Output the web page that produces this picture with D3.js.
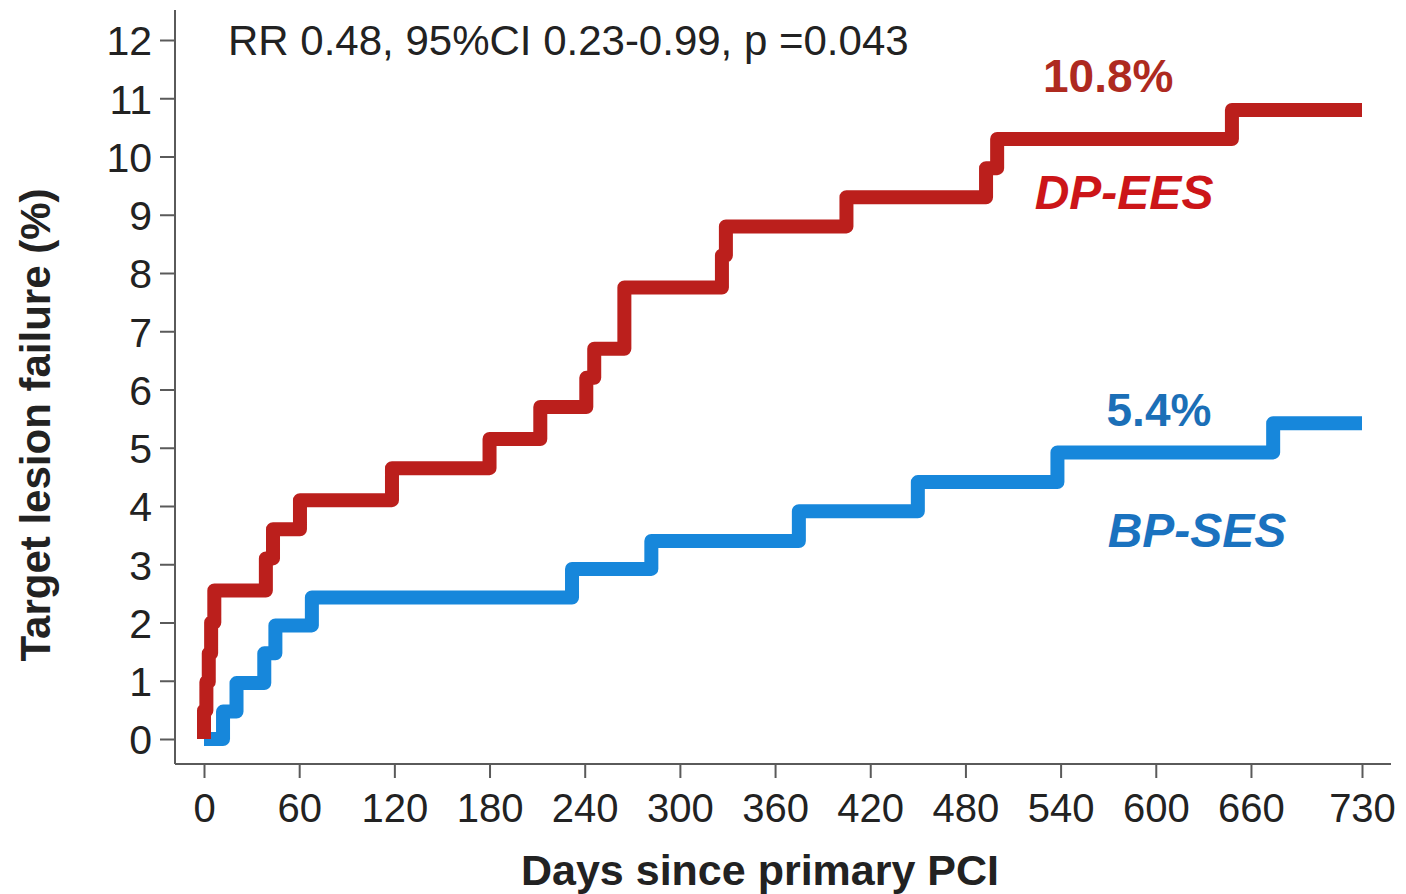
<!DOCTYPE html>
<html>
<head>
<meta charset="utf-8">
<script src="https://cdn.jsdelivr.net/npm/d3@7"></script>
<style>
  body { margin: 0; background: #fff; }
  svg text { font-family: "Liberation Sans", Arial, sans-serif; }
</style>
</head>
<body>
<div id="chart"></div>
<script>
// Kaplan-Meier style cumulative target lesion failure (%)
var dpDays = [0, 0, 1.5, 3, 4.5, 6.5, 39, 43.5, 60.5, 118.5, 180, 212, 241, 246, 265, 326.5, 329, 405, 493, 500, 648, 730];
var dpRisk = [0, 0.49, 0.98, 1.47, 2.0, 2.55, 3.1, 3.6, 4.1, 4.65, 5.15, 5.7, 6.2, 6.7, 7.75, 8.3, 8.8, 9.3, 9.8, 10.3, 10.8, 10.8];

var bpDays = [0, 12, 20.5, 38, 45, 68, 232, 282, 375, 450, 538, 674, 730];
var bpRisk = [0, 0.47, 0.96, 1.47, 1.95, 2.43, 2.92, 3.4, 3.91, 4.41, 4.92, 5.42, 5.42];

var xTicks = [0, 60, 120, 180, 240, 300, 360, 420, 480, 540, 600, 660, 730];
var yTicks = [0, 1, 2, 3, 4, 5, 6, 7, 8, 9, 10, 11, 12];

var statText = "RR 0.48, 95%CI 0.23-0.99, p =0.043";
var series = [
  { name: "DP-EES", final: "10.8%", days: dpDays, risk: dpRisk, line: "#bb1f1c", pct: "#ae2a1f", lab: "#cc1518",
    pctPos: [570, 11.4], labPos: [580, 9.4] },
  { name: "BP-SES", final: "5.4%", days: bpDays, risk: bpRisk, line: "#1787db", pct: "#1b6fb7", lab: "#1a72bf",
    pctPos: [602, 5.65], labPos: [626, 3.6] }
];

var W = 1406, H = 894;
var x = d3.scaleLinear().domain([0, 730]).range([204, 1362]);
var y = d3.scaleLinear().domain([0, 12]).range([739, 40]);

var svg = d3.select("#chart").append("svg").attr("width", W).attr("height", H);

var axisColor = "#5a5a5a", textColor = "#222";

// axis lines (extend past data range like the original)
svg.append("line").attr("x1", 175).attr("x2", 175).attr("y1", 10).attr("y2", 764)
  .style("stroke", axisColor).style("stroke-width", 2);
svg.append("line").attr("x1", 175).attr("x2", 1391).attr("y1", 764).attr("y2", 764)
  .style("stroke", axisColor).style("stroke-width", 2);

var gx = svg.append("g").attr("transform", "translate(0,764)")
  .call(d3.axisBottom(x).tickValues(xTicks).tickSize(14).tickPadding(16).tickSizeOuter(0));
var gy = svg.append("g").attr("transform", "translate(175,0)")
  .call(d3.axisLeft(y).tickValues(yTicks).tickSize(15).tickPadding(8).tickSizeOuter(0));
[gx, gy].forEach(function(g) {
  g.select(".domain").remove();
  g.selectAll(".tick line").style("stroke", axisColor).style("stroke-width", 2);
  g.selectAll(".tick text").style("font-size", "40px").style("fill", textColor)
    .style("font-family", "Liberation Sans, Arial, sans-serif");
});
gy.selectAll(".tick text").style("font-size", "41px").attr("dy", "0.36em");

// axis titles
svg.append("text").attr("x", 760).attr("y", 885).attr("text-anchor", "middle")
  .style("font-size", "43px").style("font-weight", "bold").style("fill", textColor)
  .text("Days since primary PCI");
svg.append("text").attr("transform", "translate(50,425) rotate(-90)").attr("text-anchor", "middle")
  .style("font-size", "42px").style("font-weight", "bold").style("fill", textColor)
  .text("Target lesion failure (%)");

// stat annotation
svg.append("text").attr("x", 228).attr("y", 55)
  .style("font-size", "42px").style("fill", textColor).text(statText);

// step curves
var line = d3.line()
  .x(function(d) { return x(d[0]); })
  .y(function(d) { return y(d[1]); })
  .curve(d3.curveStepAfter);

series.slice().reverse().forEach(function(s) {
  var pts = s.days.map(function(d, i) { return [d, s.risk[i]]; });
  svg.append("path").datum(pts).attr("d", line)
    .style("fill", "none").style("stroke", s.line).style("stroke-width", 14)
    .style("stroke-linejoin", "round").style("stroke-linecap", "butt");
});

series.forEach(function(s) {
  svg.append("text").attr("x", x(s.pctPos[0])).attr("y", y(s.pctPos[1]))
    .attr("text-anchor", "middle").attr("dy", "0.36em")
    .style("font-size", "46px").style("font-weight", "bold").style("fill", s.pct)
    .text(s.final);
  svg.append("text").attr("x", x(s.labPos[0])).attr("y", y(s.labPos[1]))
    .attr("text-anchor", "middle").attr("dy", "0.36em")
    .style("font-size", "48px").style("font-weight", "bold").style("font-style", "italic")
    .style("fill", s.lab).text(s.name);
});
</script>
</body>
</html>
